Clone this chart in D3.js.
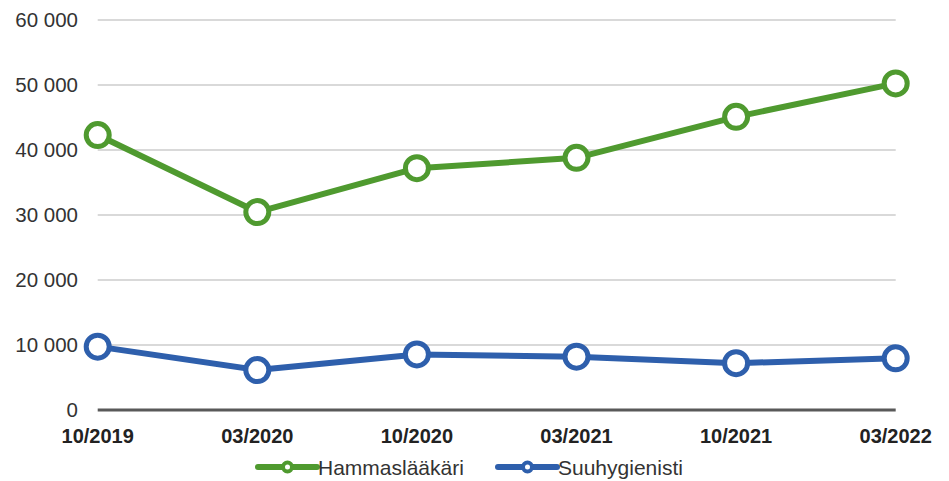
<!DOCTYPE html>
<html>
<head>
<meta charset="utf-8">
<script src="https://cdn.jsdelivr.net/npm/d3@7"></script>
<style>
  html, body { margin: 0; padding: 0; background: #fff; }
  svg { display: block; font-family: "Liberation Sans", Arial, sans-serif; }
</style>
</head>
<body>
<svg id="chart" width="949" height="481"></svg>
<script>
// Periods on the x axis
const periods = ["10/2019", "03/2020", "10/2020", "03/2021", "10/2021", "03/2022"];
// Series values
const hammaslaakari = [42300, 30450, 37200, 38800, 45100, 50250];
const suuhygienisti = [9750, 6150, 8550, 8200, 7200, 7950];
const seriesNames = ["Hammaslääkäri", "Suuhygienisti"];
const seriesColors = ["#4f9a2f", "#2e5fac"];
// Y axis ticks
const yTicks = [0, 10000, 20000, 30000, 40000, 50000, 60000];

const svg = d3.select("#chart");
const plotLeft = 97.7, plotRight = 895.7, plotTop = 20, plotBottom = 410;

const x = d3.scalePoint().domain(periods).range([plotLeft, plotRight]);
const y = d3.scaleLinear().domain([0, 60000]).range([plotBottom, plotTop]);

const fmt = v => d3.format(",")(v).replace(/,/g, " ");

// Gridlines
svg.append("g")
  .selectAll("line")
  .data(yTicks.filter(d => d > 0))
  .join("line")
  .attr("x1", plotLeft).attr("x2", plotRight)
  .attr("y1", d => y(d)).attr("y2", d => y(d))
  .attr("stroke", "#d9d9d9")
  .attr("stroke-width", 2);

// Y tick labels
svg.append("g")
  .selectAll("text")
  .data(yTicks)
  .join("text")
  .attr("x", 78)
  .attr("y", d => y(d))
  .attr("dy", "0.36em")
  .attr("text-anchor", "end")
  .attr("font-size", 20.5)
  .attr("fill", "#333")
  .text(d => fmt(d));

// X axis baseline
svg.append("line")
  .attr("x1", plotLeft).attr("x2", plotRight)
  .attr("y1", plotBottom).attr("y2", plotBottom)
  .attr("stroke", "#595959")
  .attr("stroke-width", 3);

// X tick labels
svg.append("g")
  .selectAll("text")
  .data(periods)
  .join("text")
  .attr("x", d => x(d))
  .attr("y", 443)
  .attr("text-anchor", "middle")
  .attr("font-size", 20)
  .attr("font-weight", "bold")
  .attr("fill", "#222")
  .text(d => d);

// Lines and markers
const allSeries = [hammaslaakari, suuhygienisti];
const line = d3.line().x((d, i) => x(periods[i])).y(d => y(d));

allSeries.forEach((vals, s) => {
  const g = svg.append("g");
  g.append("path")
    .datum(vals)
    .attr("d", line)
    .attr("fill", "none")
    .attr("stroke", seriesColors[s])
    .attr("stroke-width", 6)
    .attr("stroke-linejoin", "round");
  g.selectAll("circle")
    .data(vals)
    .join("circle")
    .attr("cx", (d, i) => x(periods[i]))
    .attr("cy", d => y(d))
    .attr("r", 11.5)
    .attr("fill", "#fff")
    .attr("stroke", seriesColors[s])
    .attr("stroke-width", 5);
});

// Legend
const legendItems = [
  { name: seriesNames[0], color: seriesColors[0], x0: 258 },
  { name: seriesNames[1], color: seriesColors[1], x0: 498 }
];
const ly = 467;
legendItems.forEach(it => {
  const g = svg.append("g");
  g.append("line")
    .attr("x1", it.x0).attr("x2", it.x0 + 59)
    .attr("y1", ly).attr("y2", ly)
    .attr("stroke", it.color)
    .attr("stroke-width", 6)
    .attr("stroke-linecap", "round");
  g.append("circle")
    .attr("cx", it.x0 + 29.5).attr("cy", ly)
    .attr("r", 4.5)
    .attr("fill", "#fff")
    .attr("stroke", it.color)
    .attr("stroke-width", 4);
  g.append("text")
    .attr("x", it.x0 + 60)
    .attr("y", ly)
    .attr("dy", "0.36em")
    .attr("font-size", 21)
    .attr("fill", "#333")
    .text(it.name);
});
</script>
</body>
</html>
